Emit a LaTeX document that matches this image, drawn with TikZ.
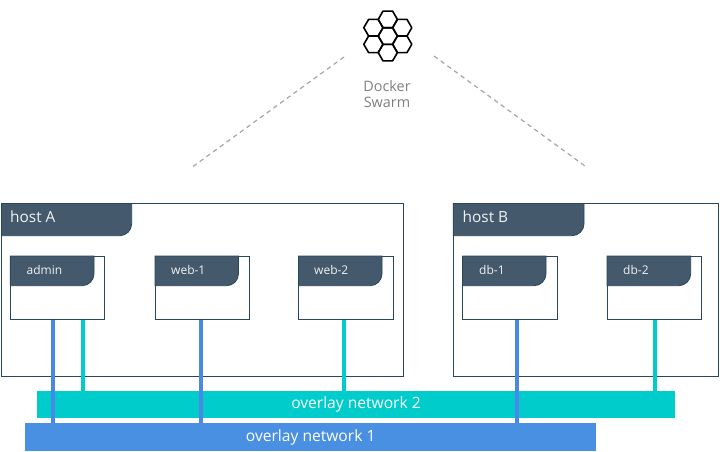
\documentclass[tikz,border=0pt]{standalone}
\usepackage{fontspec}
\setmainfont{Open Sans}
\definecolor{slatehead}{HTML}{44596B}
\definecolor{boxline}{HTML}{27475C}
\definecolor{netblue}{HTML}{4A90E2}
\definecolor{linkblue}{HTML}{4A88E6}
\definecolor{netteal}{HTML}{00CCCC}
\definecolor{swarmgray}{HTML}{7F7F7F}
\tikzset{
  hostbox/.style={draw=boxline,line width=1pt,fill=white,inner sep=0pt},
  netbar/.style={inner sep=0pt,text=white,font=\fontsize{15.6}{18}\selectfont},
  headtext/.style={anchor=base west,inner sep=0pt,text=white!92!slatehead},
  bluelink/.style={linkblue,line width=4pt},
  teallink/.style={netteal,line width=4pt},
  hexline/.style={line width=1.6pt,line join=round},
  swarmline/.style={swarmgray!70,line width=1.2pt,dash pattern=on 4.5pt off 3.77pt}
}
\begin{document}
\begin{tikzpicture}[x=1pt,y=-1pt]
    \useasboundingbox (0,0) rectangle (720,451);
    % swarm icon
    \foreach \dx/\dy in {0/0,0/-16.6,0/16.6,-14.4/-8.3,14.4/-8.3,-14.4/8.3,14.4/8.3}{
      \draw[hexline,shift={(387.8+\dx,36+\dy)}] (9.6,0) -- (4.8,8.3) -- (-4.8,8.3) -- (-9.6,0) -- (-4.8,-8.3) -- (4.8,-8.3) -- cycle;
    }
    \node[text=swarmgray,align=center,font=\fontsize{14.4}{15.5}\selectfont,inner sep=0pt] (swarmtext) at (387,94) {Docker\\Swarm};
    \coordinate (leftend) at (193,166.5);
    \coordinate (leftstart) at (344,57);
    \coordinate (rightstart) at (434,56);
    \coordinate (rightend) at (585,166);
    \draw[swarmline] (leftstart) -- (leftend);
    \draw[swarmline] (rightstart) -- (rightend);
    % hosts and services: name/left/right/top/bottom/head right/head bottom/label x/baseline/label/font size
    \foreach \nm/\xl/\xr/\yt/\yb/\hr/\hb/\tx/\by/\lb/\fs in {
      hostA/1.5/403/203.5/376/131.7/235.7/10/222.3/host A/15.4,
      hostB/453.3/718.7/203.5/376/584/235.7/462.5/222.3/host B/15.4,
      admin/10.3/104.7/256/319/94/285.7/26.5/274.3/admin/12,
      webA/155/249.5/256/319/238.5/285.7/171/274.3/web-1/12,
      webB/298.5/393/256/319/382/285.7/314/274.3/web-2/12,
      dbA/462.7/557.3/256/319/546/285.7/479/274.3/db-1/12,
      dbB/607/701.7/256/319/690.7/285.7/623/274.3/db-2/12}{
      \node[hostbox,minimum width={\xr-\xl},minimum height={\yb-\yt}] (\nm) at ({(\xl+\xr)/2},{(\yt+\yb)/2}) {};
      \filldraw[fill=slatehead,draw=boxline,line width=0.8pt] (\xl,\yt) -- (\hr,\yt) -- (\hr,\hb-12) arc (0:90:12) -- (\xl,\hb) -- cycle;
      \node[headtext,font=\fontsize{\fs}{\fs}\selectfont] (\nm-label) at (\tx,\by) {\lb};
    }
    % overlay networks
    \node[netbar,fill=netteal,minimum width=638pt,minimum height=27pt] (netB) at (356,404.2) {overlay network 2};
    \foreach \nd/\xx in {admin/83,webB/344,dbB/655}{
      \draw[teallink] (\xx,0 |- \nd.south) -- (\xx,0 |- netB.north);
    }
    \node[netbar,fill=netblue,minimum width=570.5pt,minimum height=27.7pt] (netA) at (310.7,437.2) {overlay network 1};
    \foreach \nd/\xx in {admin/53,webA/201,dbA/517}{
      \draw[bluelink] (\xx,0 |- \nd.south) -- (\xx,0 |- netA.north);
    }
\end{tikzpicture}
\end{document}
